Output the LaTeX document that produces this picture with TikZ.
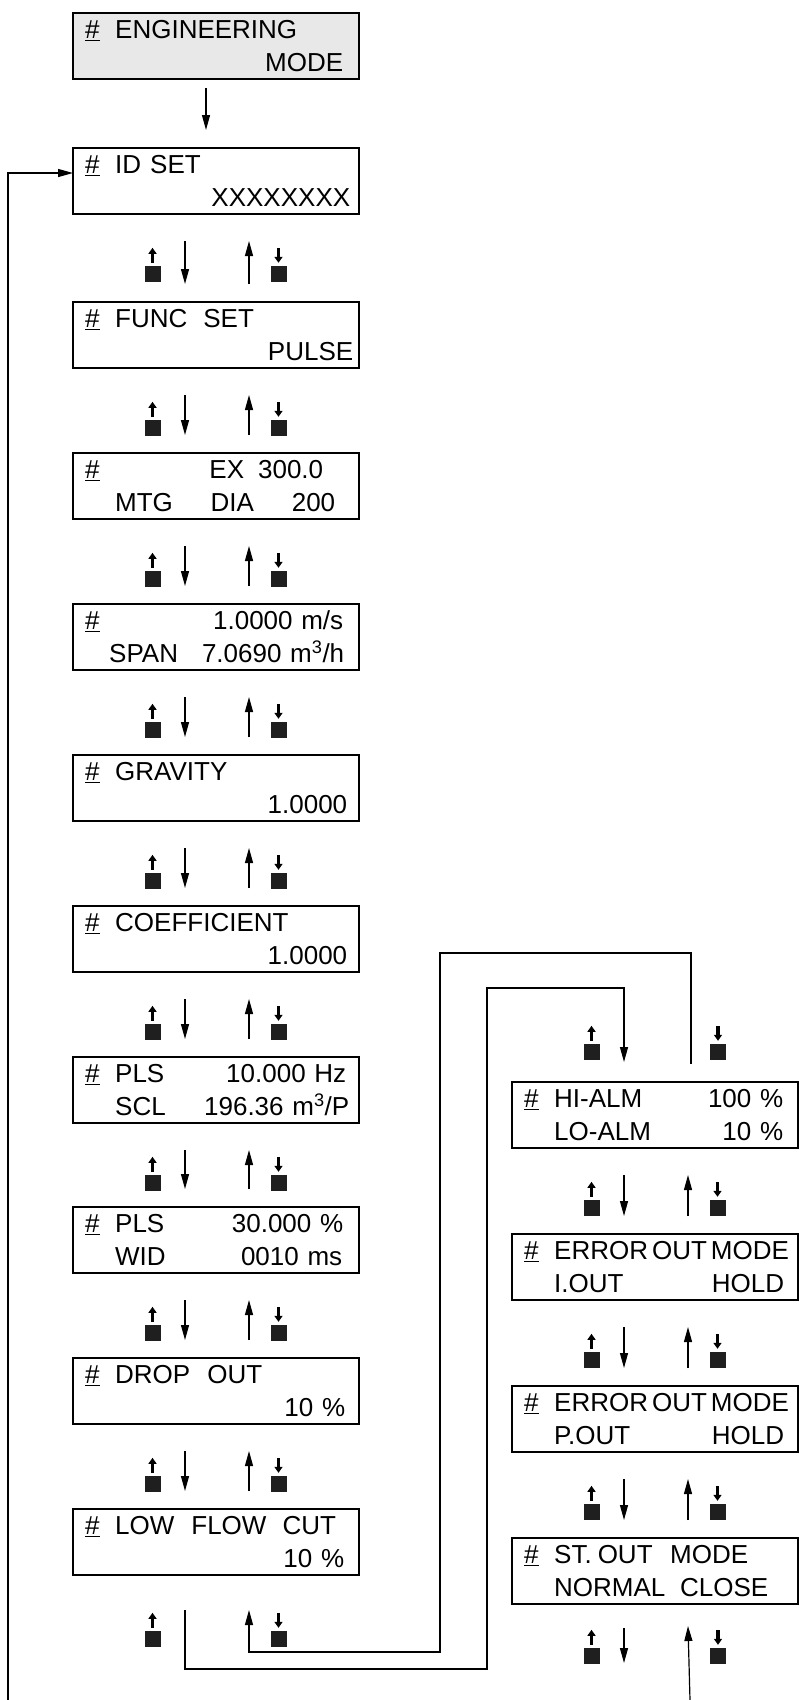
\documentclass[tikz,border=0pt]{standalone}
\usepackage{fontspec}
\setmainfont{Liberation Sans}
\usetikzlibrary{arrows.meta, calc}
\newcommand{\lcdhash}{\makebox[30pt][l]{\underline{\#}}}
\newcommand{\lcdind}{\hspace*{30pt}}

\begin{document}
\begin{tikzpicture}[x=1pt, y=-1pt,
    every node/.style={font=\fontsize{26}{30}\selectfont},
    lcd/.style={draw, line width=1.8pt, minimum width=286pt, minimum height=66pt,
                inner sep=0pt, outer sep=0pt},
    lcdtxt/.style={anchor=base west, inner sep=0pt, text width=262pt, align=left},
    btn/.style={fill=black!88, minimum size=16pt, inner sep=0pt},
    push/.style={line width=3.5pt, -{Triangle[length=6pt, width=8pt]}},
    nav/.style={line width=1.2pt, -{Triangle[length=15pt, width=8pt]}}]
    \useasboundingbox (0,0) rectangle (799,1700);

    % Engineering mode entry
    \node[lcd, fill=gray!18] (eng) at (216,46) {};
    \node[lcdtxt] (eng-a) at ($(eng.north west)+(12,25.5)$) {\lcdhash ENGINEERING};
    \node[lcdtxt] (eng-b) at ($(eng.north west)+(12,58.5)$) {\hspace*{\fill}MODE\hspace{4pt}\null};

    % Left column of settings
    \node[lcd] (id) at (216,181) {};
    \node[lcdtxt] (id-a) at ($(id.north west)+(12,25.5)$) {\lcdhash ID\hspace{9pt}SET};
    \node[lcdtxt] (id-b) at ($(id.north west)+(12,58.5)$) {\hspace*{\fill}XXXXXXXX\hspace{-3pt}\null};

    \node[lcd] (func) at (216,335) {};
    \node[lcdtxt] (func-a) at ($(func.north west)+(12,25.5)$) {\lcdhash FUNC\hspace{16pt}SET};
    \node[lcdtxt] (func-b) at ($(func.north west)+(12,58.5)$) {\hspace*{\fill}PULSE\hspace{-6pt}\null};

    \node[lcd] (ex) at (216,486) {};
    \node[lcdtxt] (ex-a) at ($(ex.north west)+(12,25.5)$) {\lcdhash\hfill EX\hspace{14pt}300.0\hspace{24pt}\null};
    \node[lcdtxt] (ex-b) at ($(ex.north west)+(12,58.5)$) {\lcdind MTG\hfill DIA\hfill 200\hspace{12pt}\null};

    \node[lcd] (span) at (216,637) {};
    \node[lcdtxt] (span-a) at ($(span.north west)+(12,25.5)$) {\lcdhash\hfill 1.0000 m/s\hspace{4pt}\null};
    \node[lcdtxt] (span-b) at ($(span.north west)+(12,58.5)$) {\hspace*{24pt}SPAN\hfill 7.0690 m\textsuperscript{3}/h\hspace{3pt}\null};

    \node[lcd] (grav) at (216,788) {};
    \node[lcdtxt] (grav-a) at ($(grav.north west)+(12,25.5)$) {\lcdhash GRAVITY};
    \node[lcdtxt] (grav-b) at ($(grav.north west)+(12,58.5)$) {\hspace*{\fill}1.0000};

    \node[lcd] (coef) at (216,939) {};
    \node[lcdtxt] (coef-a) at ($(coef.north west)+(12,25.5)$) {\lcdhash COEFFICIENT};
    \node[lcdtxt] (coef-b) at ($(coef.north west)+(12,58.5)$) {\hspace*{\fill}1.0000};

    \node[lcd] (pls) at (216,1090) {};
    \node[lcdtxt] (pls-a) at ($(pls.north west)+(12,25.5)$) {\lcdhash PLS\hfill 10.000 Hz\hspace{1pt}\null};
    \node[lcdtxt] (pls-b) at ($(pls.north west)+(12,58.5)$) {\lcdind SCL\hfill 196.36 m\textsuperscript{3}/P\hspace{-2pt}\null};

    \node[lcd] (wid) at (216,1240) {};
    \node[lcdtxt] (wid-a) at ($(wid.north west)+(12,25.5)$) {\lcdhash PLS\hfill 30.000 \%\hspace{4pt}\null};
    \node[lcdtxt] (wid-b) at ($(wid.north west)+(12,58.5)$) {\lcdind WID\hfill 0010 ms\hspace{5pt}\null};

    \node[lcd] (drop) at (216,1391) {};
    \node[lcdtxt] (drop-a) at ($(drop.north west)+(12,25.5)$) {\lcdhash DROP\hspace{17pt}OUT};
    \node[lcdtxt] (drop-b) at ($(drop.north west)+(12,58.5)$) {\hspace*{\fill}10 \%\hspace{2pt}\null};

    \node[lcd] (low) at (216,1542) {};
    \node[lcdtxt] (low-a) at ($(low.north west)+(12,25.5)$) {\lcdhash LOW\hspace{17pt}FLOW\hspace{16pt}CUT};
    \node[lcdtxt] (low-b) at ($(low.north west)+(12,58.5)$) {\hspace*{\fill}10 \%\hspace{3pt}\null};

    % Right column of settings
    \node[lcd] (alm) at (655,1115) {};
    \node[lcdtxt] (alm-a) at ($(alm.north west)+(12,25.5)$) {\lcdhash HI-ALM\hfill 100 \%\hspace{3pt}\null};
    \node[lcdtxt] (alm-b) at ($(alm.north west)+(12,58.5)$) {\lcdind LO-ALM\hfill 10 \%\hspace{3pt}\null};

    \node[lcd] (err1) at (655,1267) {};
    \node[lcdtxt] (err1-a) at ($(err1.north west)+(12,25.5)$) {\mbox{\lcdhash ERROR\hspace{4pt}OUT\hspace{4pt}MODE}};
    \node[lcdtxt] (err1-b) at ($(err1.north west)+(12,58.5)$) {\lcdind I.OUT\hfill HOLD\hspace{2pt}\null};

    \node[lcd] (err2) at (655,1419) {};
    \node[lcdtxt] (err2-a) at ($(err2.north west)+(12,25.5)$) {\mbox{\lcdhash ERROR\hspace{4pt}OUT\hspace{4pt}MODE}};
    \node[lcdtxt] (err2-b) at ($(err2.north west)+(12,58.5)$) {\lcdind P.OUT\hfill HOLD\hspace{2pt}\null};

    \node[lcd] (st) at (655,1571) {};
    \node[lcdtxt] (st-a) at ($(st.north west)+(12,25.5)$) {\lcdhash ST.\hspace{6pt}OUT\hfill MODE\hspace{38pt}\null};
    \node[lcdtxt] (st-b) at ($(st.north west)+(12,58.5)$) {\lcdind NORMAL\hfill CLOSE\hspace{18pt}\null};

    % Key rows between two displays
    \foreach \a/\b in {id/func, func/ex, ex/span, span/grav, grav/coef, coef/pls,
                       pls/wid, wid/drop, drop/low, alm/err1, err1/err2, err2/st} {
      \node[btn] (\a-up) at ($(\a.south west)+(79.5,60)$) {};
      \node[btn] (\a-dn) at ($(\a.south west)+(205.5,60)$) {};
      \draw[push] ([yshift=3pt]\a-up.north) -- ++(0,-15);
      \draw[push] ([yshift=18pt]\a-dn.north) -- ([yshift=3pt]\a-dn.north);
      \draw[nav] ($(\a.south west)+(112,27)$) -- ($(\b.north west)+(112,-18)$);
      \draw[nav] ($(\b.north west)+(176,-18)$) -- ($(\a.south west)+(176,27)$);
    }

    % Keys at the ends of the two columns
    \node[btn] (low-up) at ($(low.south west)+(79.5,64)$) {};
    \node[btn] (low-dn) at ($(low.south west)+(205.5,64)$) {};
    \node[btn] (alm-up) at ($(alm.north west)+(79.5,-30)$) {};
    \node[btn] (alm-dn) at ($(alm.north west)+(206,-30)$) {};
    \node[btn] (st-up) at ($(st.south west)+(79.5,52)$) {};
    \node[btn] (st-dn) at ($(st.south west)+(206,52)$) {};
    \foreach \k in {low, alm, st} {
      \draw[push] ([yshift=3pt]\k-up.north) -- ++(0,-15);
      \draw[push] ([yshift=18pt]\k-dn.north) -- ([yshift=3pt]\k-dn.north);
    }
    \draw[nav] ($(st.south west)+(112,24)$) -- ($(st.south west)+(112,59)$);

    % Connectors
    \draw[nav] ($(eng.south west)+(133,9)$) -- ($(id.north west)+(133,-18)$);
    \coordinate (back) at (8,1700);
    \draw[nav] (back) |- ($(id.north west)+(0,25)$);
    \coordinate (outer) at (440,953);
    \draw[nav] ($(alm.north west)+(179,-18)$) |- (outer)
      |- ($(low.south west)+(176,77)$) -- ($(low.south west)+(176,35)$);
    \coordinate (inner) at (487,1669);
    \draw[nav] ($(low.south west)+(112,35)$) |- (inner)
      |- ($(alm.north west)+(112,-94)$) -- ($(alm.north west)+(112,-20)$);
    \coordinate (more) at (690,1700);
    \draw[nav] (more) -- ($(st.south west)+(176,22)$);
  \end{tikzpicture}
\end{document}
